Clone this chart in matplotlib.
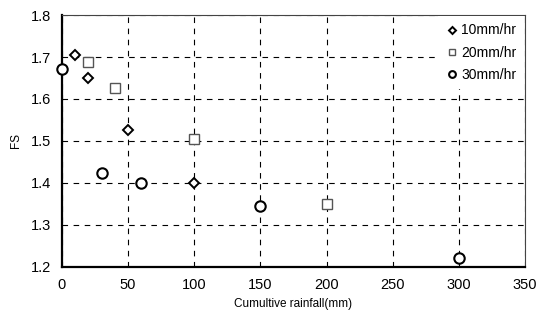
import numpy as np
import matplotlib
matplotlib.use('Agg')
import matplotlib.pyplot as plt

plt.rcParams['font.family'] = ['Liberation Sans', 'DejaVu Sans']

# data
x_10 = [10, 20, 50, 100]
fs_10 = [1.705, 1.65, 1.525, 1.40]
x_20 = [20, 40, 100, 200]
fs_20 = [1.688, 1.625, 1.505, 1.35]
x_30 = [0, 30, 60, 150, 300]
fs_30 = [1.672, 1.423, 1.40, 1.345, 1.22]

fig = plt.figure(figsize=(5.39, 3.2), dpi=100)
ax = fig.add_axes([0.115, 0.166, 0.859, 0.787])

ax.plot(x_10, fs_10, linestyle='none', marker='D', markersize=5.5, mfc='white',
        mec='black', mew=1.4, label='10mm/hr', clip_on=False, zorder=3)
ax.plot(x_20, fs_20, linestyle='none', marker='s', markersize=7.5, mfc='white',
        mec='#555555', mew=1.0, label='20mm/hr', clip_on=False, zorder=3)
ax.plot(x_30, fs_30, linestyle='none', marker='o', markersize=7.5, mfc='white',
        mec='black', mew=1.5, label='30mm/hr', clip_on=False, zorder=3)

ax.set_xlim(0, 350)
ax.set_ylim(1.2, 1.8)
ax.set_xticks(np.arange(0, 351, 50))
ax.set_yticks(np.arange(1.2, 1.81, 0.1))
ax.yaxis.set_major_formatter(plt.FormatStrFormatter('%.1f'))
ax.tick_params(length=0, labelsize=10.5, pad=8)

ax.grid(True, color='black', linestyle=(0, (5, 5)), linewidth=0.8)
ax.set_axisbelow(True)

ax.spines['left'].set_linewidth(1.6)
ax.spines['bottom'].set_linewidth(1.6)
ax.spines['top'].set_linewidth(0.8)
ax.spines['right'].set_linewidth(0.8)
ax.spines['top'].set_color('#444444')
ax.spines['right'].set_color('#444444')

ax.set_xlabel('Cumultive rainfall(mm)', fontsize=8.5, labelpad=4)
ax.set_ylabel('FS', fontsize=8.5, labelpad=6)

leg = ax.legend(loc='upper right', frameon=True, fontsize=10, handletextpad=0.2,
                handlelength=1.0, labelspacing=0.6, markerscale=0.65,
                borderaxespad=0.1, borderpad=0.5, fancybox=False)
leg.get_frame().set_facecolor('white')
leg.get_frame().set_edgecolor('none')
leg.get_frame().set_alpha(1.0)

fig.savefig('out.png', dpi=100)
